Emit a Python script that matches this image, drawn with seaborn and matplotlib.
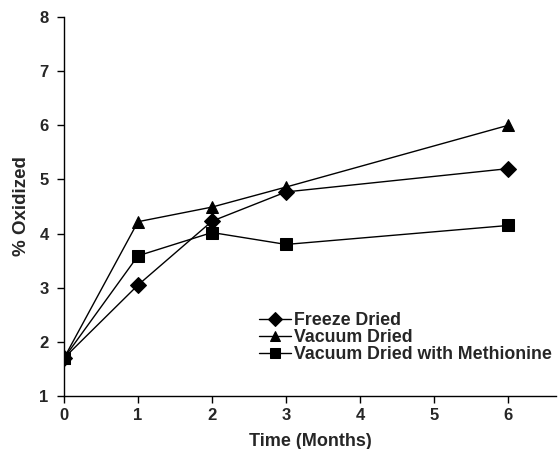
import matplotlib
matplotlib.use("Agg")
import matplotlib.pyplot as plt
import pandas as pd
import seaborn as sns

months = [0, 1, 2, 3, 6]
freeze_dried = [1.70, 3.05, 4.23, 4.77, 5.20]
vacuum_dried = [1.70, 4.22, 4.49, 4.86, 6.00]
vacuum_methionine = [1.70, 3.59, 4.02, 3.80, 4.15]
series_names = ["Freeze Dried", "Vacuum Dried", "Vacuum Dried with Methionine"]
y_ticks = [1, 2, 3, 4, 5, 6, 7, 8]
x_ticks = [0, 1, 2, 3, 4, 5, 6]

frames = []
for name, vals in zip(series_names, [freeze_dried, vacuum_dried, vacuum_methionine]):
    frames.append(pd.DataFrame({"month": months, "value": vals, "series": name}))
df = pd.concat(frames, ignore_index=True)

sns.set_style("ticks")
plt.rcParams["font.family"] = ["Liberation Sans", "DejaVu Sans"]
plt.rcParams["font.weight"] = "bold"

fig = plt.figure(figsize=(5.58, 4.49), dpi=100)
ax = fig.add_axes([0.1147, 0.118, 0.882, 0.844])

sns.lineplot(data=df, x="month", y="value", style="series", markers=["D", "^", "s"],
             dashes=False, color="black", linewidth=1.0, markersize=8,
             markeredgecolor="black", ax=ax, legend=True)

ax.set_xlim(0, 6.65)
ax.set_ylim(1, 8)
ax.set_xticks(x_ticks)
ax.set_yticks(y_ticks)
ax.set_xlabel("Time (Months)", fontsize=13, fontweight="bold", labelpad=7)
ax.set_ylabel("% Oxidized", fontsize=13.5, fontweight="bold", labelpad=7)
ax.tick_params(axis="both", labelsize=12, length=5, width=1, color="black", direction="out")
ax.tick_params(axis="y", pad=6)
for lab in ax.get_xticklabels() + ax.get_yticklabels():
    lab.set_fontweight("bold")
sns.despine(ax=ax)
for s in ["left", "bottom"]:
    ax.spines[s].set_color("black")
    ax.spines[s].set_linewidth(1.0)

handles, labels = ax.get_legend_handles_labels()
leg = ax.legend(handles, labels, loc="upper left", bbox_to_anchor=(259 / 558, 1 - 312 / 449),
                bbox_transform=fig.transFigure, frameon=False,
                handlelength=1.8, handletextpad=0.15, labelspacing=0.0, borderpad=0,
                borderaxespad=0, prop={"weight": "bold", "size": 12.8})
for h in leg.legend_handles:
    h.set_markersize(7)

fig.savefig("out.png", dpi=100)
